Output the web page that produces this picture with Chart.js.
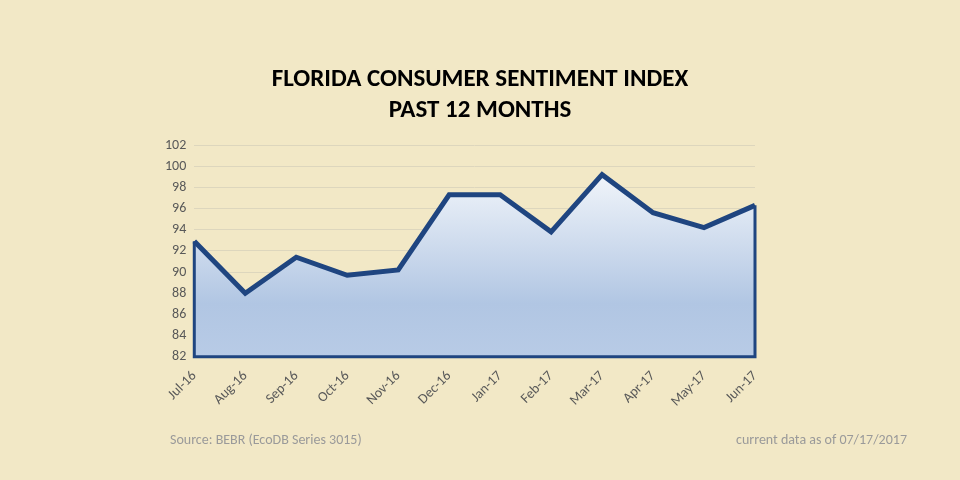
<!DOCTYPE html>
<html>
<head>
<meta charset="utf-8">
<script src="https://cdn.jsdelivr.net/npm/chart.js@4"></script>
<style>
  body { margin: 0; background: #f2e8c6; }
  #wrap { position: relative; width: 960px; height: 480px; }
  #title { position: absolute; top: 62px; left: 0; width: 960px; text-align: center;
    font: bold 25px Calibri, Carlito, "Open Sans", sans-serif; line-height: 31px; color: #000; }
  .note { position: absolute; top: 431px; font: 14px Calibri, Carlito, "Open Sans", sans-serif; color: #9a9a9a; }
</style>
</head>
<body>
<div id="wrap">
  <canvas id="myChart" width="960" height="480"></canvas>
  <div id="title">FLORIDA CONSUMER SENTIMENT INDEX<br>PAST 12 MONTHS</div>
  <div class="note" style="left:170px">Source: BEBR (EcoDB Series 3015)</div>
  <div class="note" style="right:53px">current data as of 07/17/2017</div>
</div>
<script>
const months = ['Jul-16', 'Aug-16', 'Sep-16', 'Oct-16', 'Nov-16', 'Dec-16',
  'Jan-17', 'Feb-17', 'Mar-17', 'Apr-17', 'May-17', 'Jun-17'];
const sentiment = [92.9, 88.0, 91.4, 89.7, 90.2, 97.3, 97.3, 93.8, 99.2, 95.6, 94.2, 96.3];
const yMin = 82;
const yMax = 102;

const lineColor = '#1f4580';

// dark edges at the left and right of the filled area
const edges = {
  id: 'edges',
  afterDatasetsDraw(chart) {
    const ctx = chart.ctx;
    const x = chart.scales.x;
    const y = chart.scales.y;
    ctx.save();
    ctx.strokeStyle = lineColor;
    ctx.lineWidth = 3;
    ctx.beginPath();
    ctx.moveTo(x.getPixelForValue(0), y.getPixelForValue(sentiment[0]));
    ctx.lineTo(x.getPixelForValue(0), y.bottom);
    ctx.lineTo(x.getPixelForValue(sentiment.length - 1), y.bottom);
    ctx.lineTo(x.getPixelForValue(sentiment.length - 1), y.getPixelForValue(sentiment[sentiment.length - 1]));
    ctx.stroke();
    ctx.restore();
  }
};

const canvasElement = document.getElementById('myChart');
const myChart = new Chart(canvasElement, {
  type: 'line',
  data: {
    labels: months,
    datasets: [{
      data: sentiment,
      borderColor: lineColor,
      borderWidth: 5,
      pointRadius: 0,
      tension: 0,
      fill: 'origin',
      backgroundColor(context) {
        const area = context.chart.chartArea;
        if (!area) return '#c8d6ec';
        const g = context.chart.ctx.createLinearGradient(0, area.top, 0, area.bottom);
        g.addColorStop(0, '#ffffff');
        g.addColorStop(0.75, '#b1c6e3');
        g.addColorStop(1, '#b8cbe6');
        return g;
      }
    }]
  },
  options: {
    responsive: false,
    animation: false,
    layout: { padding: { left: 157, right: 205, top: 145, bottom: 67 } },
    plugins: {
      legend: { display: false },
      tooltip: { enabled: false }
    },
    scales: {
      x: {
        offset: false,
        grid: { display: false },
        border: { display: false },
        ticks: {
          color: '#595959', maxRotation: 45, minRotation: 45,
          font: { family: 'Calibri, Carlito, "Open Sans", sans-serif', size: 14 }
        }
      },
      y: {
        min: yMin,
        max: yMax,
        grid: { color: '#ddd6bd', drawTicks: false },
        border: { display: false },
        ticks: {
          stepSize: 2, color: '#595959', padding: 8,
          font: { family: 'Calibri, Carlito, "Open Sans", sans-serif', size: 14 }
        }
      }
    }
  },
  plugins: [edges]
});
</script>
</body>
</html>
